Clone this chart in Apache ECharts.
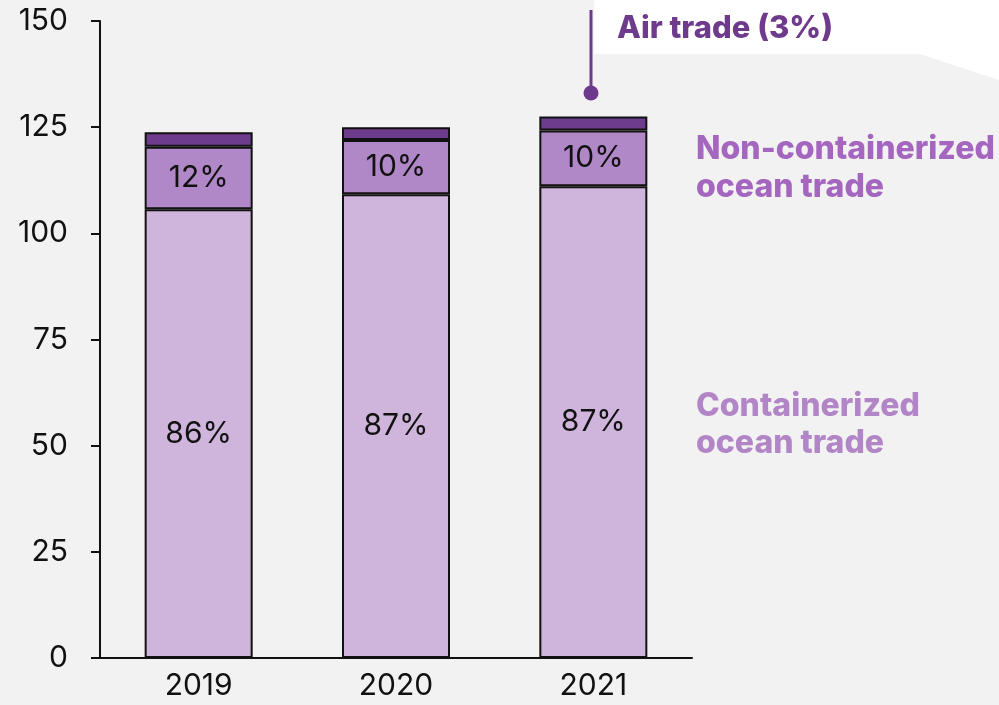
<!DOCTYPE html>
<html>
<head>
<meta charset="utf-8">
<script src="https://cdn.jsdelivr.net/npm/echarts@6/dist/echarts.min.js"></script>
<style>
    html, body { margin: 0; padding: 0; background: #f2f2f2; }
    #chart { width: 999px; height: 705px; }
</style>
</head>
<body>
<div id="chart"></div>
<script>
const years = ["2019", "2020", "2021"];
const containerized = [105.7, 109.2, 111.1];
const nonContainerized = [14.7, 12.8, 13.1];
const airTrade = [3.4, 3.0, 3.3];
const containerizedLabels = ["86%", "87%", "87%"];
const nonContainerizedLabels = ["12%", "10%", "10%"];

const font = "Inter, 'Noto Sans', sans-serif";
const chart = echarts.init(document.getElementById("chart"));

function segment(name, values, color, labels) {
    return {
        name: name,
        type: "bar",
        stack: "trade",
        barWidth: 108,
        data: values.map((v, i) => ({ value: v, labelText: labels ? labels[i] : "" })),
        itemStyle: { color: color, borderColor: "#111", borderWidth: 2 },
        label: {
            show: !!labels,
            position: "inside",
            color: "#111",
            fontSize: 30,
            fontFamily: font,
            formatter: p => p.data.labelText
        },
        emphasis: { disabled: true }
    };
}

chart.setOption({
    backgroundColor: "#f2f2f2",
    animation: false,
    grid: { left: 100, right: 307, top: 21, bottom: 47 },
    xAxis: {
        type: "category",
        data: years,
        axisLine: { lineStyle: { color: "#111", width: 2 } },
        axisTick: { show: false },
        axisLabel: { color: "#111", fontSize: 30, fontFamily: font, margin: 13 }
    },
    yAxis: {
        type: "value",
        min: 0,
        max: 150,
        interval: 25,
        splitLine: { show: false },
        axisLine: { show: true, lineStyle: { color: "#111", width: 2 } },
        axisTick: { show: true, length: 9, lineStyle: { color: "#111", width: 2 } },
        axisLabel: { color: "#111", fontSize: 30, fontFamily: font, margin: 32 }
    },
    series: [
        segment("Containerized ocean trade", containerized, "#cfb4dc", containerizedLabels),
        segment("Non-containerized ocean trade", nonContainerized, "#b087c7", nonContainerizedLabels),
        segment("Air trade", airTrade, "#6e3c8d", null)
    ],
    graphic: [
        {
            type: "polygon",
            z: -1,
            shape: { points: [[594, 0], [999, 0], [999, 80], [920, 54], [594, 54]] },
            style: { fill: "#ffffff" }
        },
        {
            type: "line",
            shape: { x1: 591, y1: 10, x2: 591, y2: 93 },
            style: { stroke: "#6e3a8c", lineWidth: 3 }
        },
        {
            type: "circle",
            shape: { cx: 591, cy: 93, r: 7.5 },
            style: { fill: "#6e3a8c" }
        },
        {
            type: "text",
            left: 617,
            top: 13,
            style: { text: "Air trade (3%)", fill: "#6e3a8c", font: "800 31px " + font }
        },
        {
            type: "text",
            left: 696,
            top: 130,
            style: { text: "Non-containerized\nocean trade", fill: "#a466be", font: "800 32px " + font, lineHeight: 38 }
        },
        {
            type: "text",
            left: 696,
            top: 388,
            style: { text: "Containerized\nocean trade", fill: "#b185c6", font: "800 32px " + font, lineHeight: 37 }
        }
    ]
});
</script>
</body>
</html>
